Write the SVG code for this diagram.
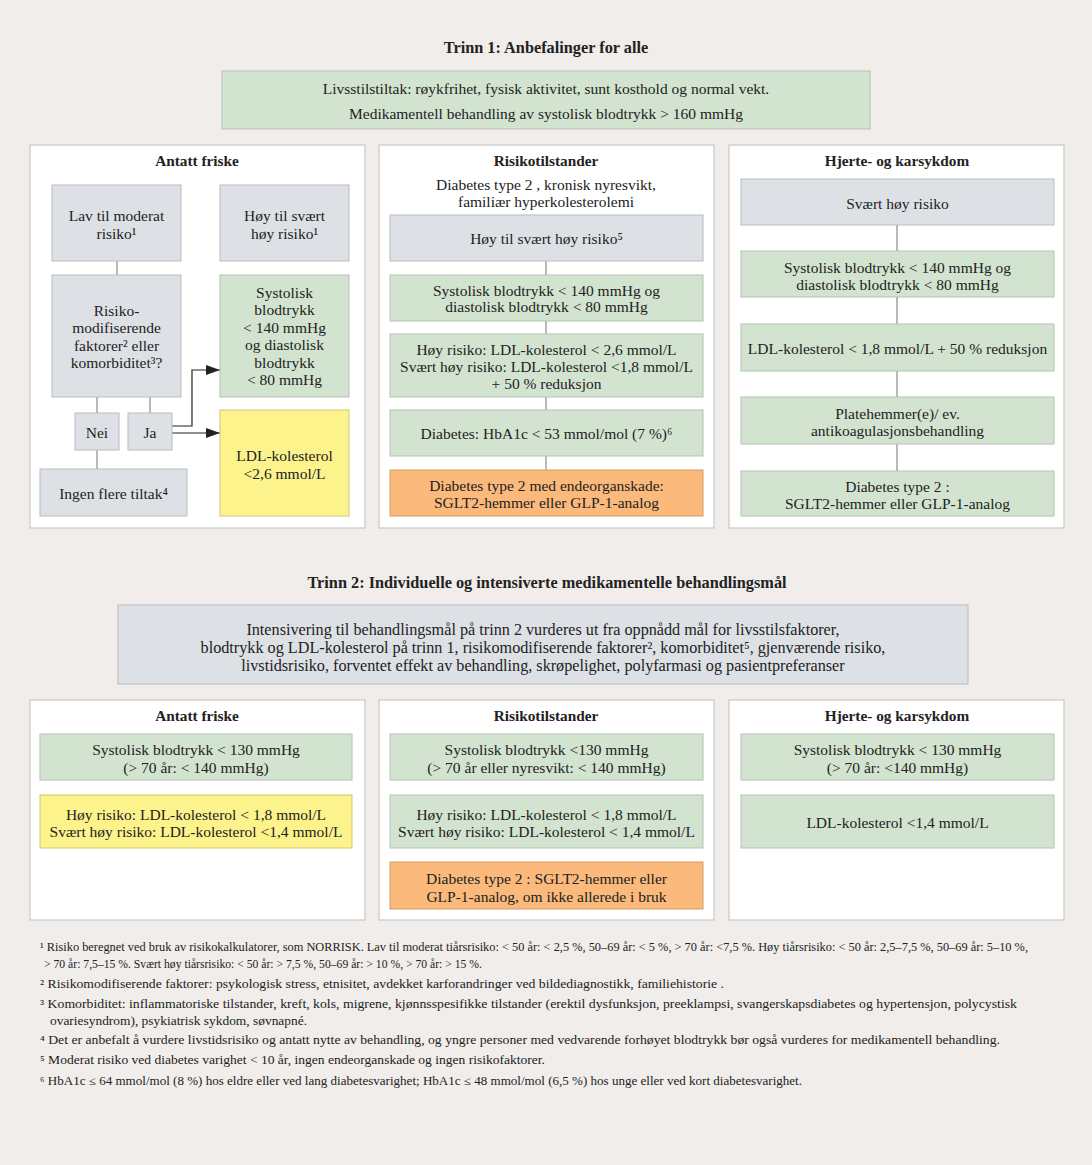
<svg xmlns="http://www.w3.org/2000/svg" width="1092" height="1165" viewBox="0 0 1092 1165">
<style>
text{font-family:"Liberation Serif","Times New Roman",serif;fill:#222;}
.t{font-size:15.5px;text-anchor:middle;}
.t2{font-size:16.2px;text-anchor:middle;}
.h{font-size:15.3px;font-weight:bold;text-anchor:middle;}
.hh{font-size:16.3px;font-weight:bold;text-anchor:middle;}
.fn{font-size:12px;}
.panel{fill:#ffffff;stroke:#c8c8c8;stroke-width:1.2;}
.grey{fill:#dde1e5;stroke:#b9bcbf;stroke-width:1;}
.green{fill:#d2e4d0;stroke:#b5c2b3;stroke-width:1;}
.yellow{fill:#fdf38c;stroke:#cfc77a;stroke-width:1;}
.orange{fill:#fbb97b;stroke:#d49a66;stroke-width:1;}
.ln{stroke:#8a8a8a;stroke-width:1.2;fill:none;}
.ar{stroke:#222;stroke-width:1.2;fill:none;}
</style>
<defs>
<marker id="arr" markerUnits="userSpaceOnUse" markerWidth="14" markerHeight="10" refX="14" refY="5" orient="auto">
<path d="M0,0 L14,5 L0,10 Z" fill="#222"/>
</marker>
</defs>
<rect x="0" y="0" width="1092" height="1165" fill="#f0edeb"/>

<text class="hh" x="546" y="53">Trinn 1: Anbefalinger for alle</text>
<g id="top-box">
<rect class="green" x="222" y="71" width="648" height="58"/>
<text class="t" x="546" y="93.5">Livsstilstiltak: røykfrihet, fysisk aktivitet, sunt kosthold og normal vekt.</text>
<text class="t" x="546" y="118.5">Medikamentell behandling av systolisk blodtrykk  &gt; 160 mmHg</text>
</g>

<g id="panel1-left">
<rect class="panel" x="30" y="145" width="335" height="383"/>
<text class="h" x="197" y="165.5">Antatt friske</text>
</g>
<g id="panel1-mid">
<rect class="panel" x="379" y="145" width="335" height="383"/>
<text class="h" x="546" y="165.5">Risikotilstander</text>
<text class="t" x="546" y="189.5">Diabetes type 2 , kronisk nyresvikt,</text>
<text class="t" x="546" y="206.5">familiær hyperkolesterolemi</text>
</g>
<g id="panel1-right">
<rect class="panel" x="729" y="145" width="335" height="383"/>
<text class="h" x="897" y="165.5">Hjerte- og karsykdom</text>
</g>

<g id="connectors">
<line class="ln" x1="117" y1="261" x2="117" y2="275"/>
<line class="ln" x1="97" y1="397" x2="97" y2="413"/>
<line class="ln" x1="150" y1="397" x2="150" y2="413"/>
<line class="ln" x1="97" y1="450" x2="97" y2="469"/>
<path class="ar" d="M172,426 H192 V370 H220" marker-end="url(#arr)"/>
<path class="ar" d="M172,433 H220" marker-end="url(#arr)"/>
<line class="ln" x1="546" y1="261" x2="546" y2="275"/>
<line class="ln" x1="546" y1="321" x2="546" y2="334"/>
<line class="ln" x1="546" y1="397" x2="546" y2="410"/>
<line class="ln" x1="546" y1="456" x2="546" y2="470"/>
<line class="ln" x1="897" y1="225" x2="897" y2="251"/>
<line class="ln" x1="897" y1="297" x2="897" y2="324"/>
<line class="ln" x1="897" y1="371" x2="897" y2="397"/>
<line class="ln" x1="897" y1="444" x2="897" y2="471"/>
<line class="ln" x1="196" y1="780" x2="196" y2="795"/>
<line class="ln" x1="546" y1="780" x2="546" y2="795"/>
<line class="ln" x1="546" y1="848" x2="546" y2="862"/>
<line class="ln" x1="897" y1="780" x2="897" y2="795"/>
</g>

<g id="n-lav">
<rect class="grey" x="52" y="185" width="129" height="76"/>
<text class="t" x="116.5" y="220.5">Lav til moderat</text>
<text class="t" x="116.5" y="238.5">risiko¹</text>
</g>
<g id="n-hoy">
<rect class="grey" x="220" y="185" width="129" height="76"/>
<text class="t" x="284.5" y="220.5">Høy til svært</text>
<text class="t" x="284.5" y="238.5">høy risiko¹</text>
</g>
<g id="n-risikomod">
<rect class="grey" x="52" y="275" width="129" height="122"/>
<text class="t" x="116.5" y="315.5">Risiko-</text>
<text class="t" x="116.5" y="333">modifiserende</text>
<text class="t" x="116.5" y="350.5">faktorer² eller</text>
<text class="t" x="116.5" y="368">komorbiditet³?</text>
</g>
<g id="n-sys1">
<rect class="green" x="220" y="275" width="129" height="122"/>
<text class="t" x="284.5" y="297.5">Systolisk</text>
<text class="t" x="284.5" y="315">blodtrykk</text>
<text class="t" x="284.5" y="332.5">&lt; 140 mmHg</text>
<text class="t" x="284.5" y="350">og diastolisk</text>
<text class="t" x="284.5" y="367.5">blodtrykk</text>
<text class="t" x="284.5" y="385">&lt; 80 mmHg</text>
</g>
<g id="n-nei">
<rect class="grey" x="75" y="413" width="44" height="37"/>
<text class="t" x="97" y="437.5">Nei</text>
</g>
<g id="n-ja">
<rect class="grey" x="128" y="413" width="44" height="37"/>
<text class="t" x="150" y="437.5">Ja</text>
</g>
<g id="n-ingen">
<rect class="grey" x="40" y="469" width="147" height="47"/>
<text class="t" x="113.5" y="498.5">Ingen flere tiltak⁴</text>
</g>
<g id="n-ldl1">
<rect class="yellow" x="220" y="410" width="129" height="106"/>
<text class="t" x="284.5" y="460.5">LDL-kolesterol</text>
<text class="t" x="284.5" y="478.5">&lt;2,6 mmol/L</text>
</g>

<g id="m-hoy">
<rect class="grey" x="390" y="215" width="313" height="46"/>
<text class="t" x="546.5" y="243.5">Høy til svært høy risiko⁵</text>
</g>
<g id="m-sys">
<rect class="green" x="390" y="275" width="313" height="46"/>
<text class="t" x="546.5" y="295.5">Systolisk blodtrykk &lt; 140 mmHg og</text>
<text class="t" x="546.5" y="311.5">diastolisk blodtrykk &lt; 80 mmHg</text>
</g>
<g id="m-ldl">
<rect class="green" x="390" y="334" width="313" height="63"/>
<text class="t" x="546.5" y="354.5">Høy risiko: LDL-kolesterol &lt; 2,6 mmol/L</text>
<text class="t" x="546.5" y="371.5">Svært høy risiko: LDL-kolesterol &lt;1,8 mmol/L</text>
<text class="t" x="546.5" y="388.5">+ 50 % reduksjon</text>
</g>
<g id="m-hba">
<rect class="green" x="390" y="410" width="313" height="46"/>
<text class="t" x="546.5" y="438.5">Diabetes: HbA1c  &lt; 53 mmol/mol (7 %)⁶</text>
</g>
<g id="m-dia">
<rect class="orange" x="390" y="470" width="313" height="46"/>
<text class="t" x="546.5" y="490.5">Diabetes type 2  med endeorganskade:</text>
<text class="t" x="546.5" y="507.5">SGLT2-hemmer eller GLP-1-analog</text>
</g>

<g id="r-svh">
<rect class="grey" x="741" y="179" width="313" height="46"/>
<text class="t" x="897.5" y="208.5">Svært høy risiko</text>
</g>
<g id="r-sys">
<rect class="green" x="741" y="251" width="313" height="46"/>
<text class="t" x="897.5" y="272.5">Systolisk blodtrykk &lt; 140 mmHg og</text>
<text class="t" x="897.5" y="289.5">diastolisk blodtrykk &lt; 80 mmHg</text>
</g>
<g id="r-ldl">
<rect class="green" x="741" y="324" width="313" height="47"/>
<text class="t" x="897.5" y="353.5">LDL-kolesterol &lt; 1,8 mmol/L + 50 % reduksjon</text>
</g>
<g id="r-plate">
<rect class="green" x="741" y="397" width="313" height="47"/>
<text class="t" x="897.5" y="418.5">Platehemmer(e)/ ev.</text>
<text class="t" x="897.5" y="435.5">antikoagulasjonsbehandling</text>
</g>
<g id="r-dia">
<rect class="green" x="741" y="471" width="313" height="45"/>
<text class="t" x="897.5" y="491.5">Diabetes type 2 :</text>
<text class="t" x="897.5" y="508.5">SGLT2-hemmer eller GLP-1-analog</text>
</g>

<text class="hh" x="547" y="588">Trinn 2: Individuelle og intensiverte medikamentelle behandlingsmål</text>
<g id="trinn2-box">
<rect class="grey" x="118" y="605" width="850" height="79"/>
<text class="t2" x="543" y="634.5">Intensivering til behandlingsmål på trinn 2 vurderes ut fra oppnådd mål for livsstilsfaktorer,</text>
<text class="t2" x="543" y="652.5">blodtrykk og LDL-kolesterol på trinn 1, risikomodifiserende faktorer², komorbiditet⁵, gjenværende risiko,</text>
<text class="t2" x="543" y="670.5">livstidsrisiko, forventet effekt av behandling, skrøpelighet, polyfarmasi og pasientpreferanser</text>
</g>

<g id="panel2-left">
<rect class="panel" x="30" y="700" width="335" height="220"/>
<text class="h" x="197" y="720.5">Antatt friske</text>
</g>
<g id="panel2-mid">
<rect class="panel" x="379" y="700" width="335" height="220"/>
<text class="h" x="546" y="720.5">Risikotilstander</text>
</g>
<g id="panel2-right">
<rect class="panel" x="729" y="700" width="335" height="220"/>
<text class="h" x="897" y="720.5">Hjerte- og karsykdom</text>
</g>

<g id="b-l-sys">
<rect class="green" x="40" y="734" width="312" height="46"/>
<text class="t" x="196" y="754.5">Systolisk blodtrykk &lt; 130 mmHg</text>
<text class="t" x="196" y="772.5">(&gt; 70 år: &lt; 140 mmHg)</text>
</g>
<g id="b-l-ldl">
<rect class="yellow" x="40" y="795" width="312" height="53"/>
<text class="t" x="196" y="819.5">Høy risiko: LDL-kolesterol &lt; 1,8 mmol/L</text>
<text class="t" x="196" y="836.5">Svært høy risiko: LDL-kolesterol &lt;1,4 mmol/L</text>
</g>
<g id="b-m-sys">
<rect class="green" x="390" y="734" width="313" height="46"/>
<text class="t" x="546.5" y="754.5">Systolisk blodtrykk &lt;130 mmHg</text>
<text class="t" x="546.5" y="772.5">(&gt; 70 år eller nyresvikt: &lt; 140 mmHg)</text>
</g>
<g id="b-m-ldl">
<rect class="green" x="390" y="795" width="313" height="53"/>
<text class="t" x="546.5" y="819.5">Høy risiko: LDL-kolesterol &lt; 1,8 mmol/L</text>
<text class="t" x="546.5" y="836.5">Svært høy risiko: LDL-kolesterol &lt; 1,4 mmol/L</text>
</g>
<g id="b-m-dia">
<rect class="orange" x="390" y="862" width="313" height="47"/>
<text class="t" x="546.5" y="883.5">Diabetes type 2 : SGLT2-hemmer eller</text>
<text class="t" x="546.5" y="901.5">GLP-1-analog, om ikke allerede i bruk</text>
</g>
<g id="b-r-sys">
<rect class="green" x="741" y="734" width="313" height="46"/>
<text class="t" x="897.5" y="754.5">Systolisk blodtrykk &lt; 130 mmHg</text>
<text class="t" x="897.5" y="772.5">(&gt; 70 år: &lt;140 mmHg)</text>
</g>
<g id="b-r-ldl">
<rect class="green" x="741" y="795" width="313" height="53"/>
<text class="t" x="897.5" y="827.5">LDL-kolesterol &lt;1,4 mmol/L</text>
</g>

<g id="footnotes">
<text class="fn" x="40" y="951" textLength="988" lengthAdjust="spacingAndGlyphs">¹ Risiko beregnet ved bruk av risikokalkulatorer, som NORRISK. Lav til moderat tiårsrisiko: &lt; 50 år: &lt; 2,5 %, 50–69 år: &lt; 5 %, &gt; 70 år: &lt;7,5 %. Høy tiårsrisiko: &lt; 50 år: 2,5–7,5 %, 50–69 år: 5–10 %,</text>
<text class="fn" x="44" y="968" textLength="438" lengthAdjust="spacingAndGlyphs">&gt; 70 år: 7,5–15 %. Svært høy tiårsrisiko: &lt; 50 år: &gt; 7,5 %, 50–69 år: &gt; 10 %, &gt; 70 år: &gt; 15 %.</text>
<text class="fn" x="40" y="988" textLength="684" lengthAdjust="spacingAndGlyphs">² Risikomodifiserende faktorer: psykologisk stress, etnisitet, avdekket karforandringer ved bildediagnostikk, familiehistorie .</text>
<text class="fn" x="40" y="1008" textLength="977" lengthAdjust="spacingAndGlyphs">³ Komorbiditet: inflammatoriske tilstander, kreft, kols, migrene, kjønnsspesifikke tilstander (erektil dysfunksjon, preeklampsi, svangerskapsdiabetes og hypertensjon, polycystisk</text>
<text class="fn" x="50" y="1025" textLength="257" lengthAdjust="spacingAndGlyphs">ovariesyndrom), psykiatrisk sykdom, søvnapné.</text>
<text class="fn" x="40" y="1044" textLength="960" lengthAdjust="spacingAndGlyphs">⁴ Det er anbefalt å vurdere livstidsrisiko og antatt nytte av behandling, og yngre personer med vedvarende forhøyet blodtrykk bør også vurderes for medikamentell behandling.</text>
<text class="fn" x="40" y="1064" textLength="505" lengthAdjust="spacingAndGlyphs">⁵ Moderat risiko ved diabetes varighet &lt; 10 år, ingen endeorganskade og ingen risikofaktorer.</text>
<text class="fn" x="40" y="1085" textLength="762" lengthAdjust="spacingAndGlyphs">⁶ HbA1c ≤ 64 mmol/mol (8 %) hos eldre eller ved lang diabetesvarighet; HbA1c ≤ 48 mmol/mol (6,5 %) hos unge eller ved kort diabetesvarighet.</text>
</g>
</svg>
